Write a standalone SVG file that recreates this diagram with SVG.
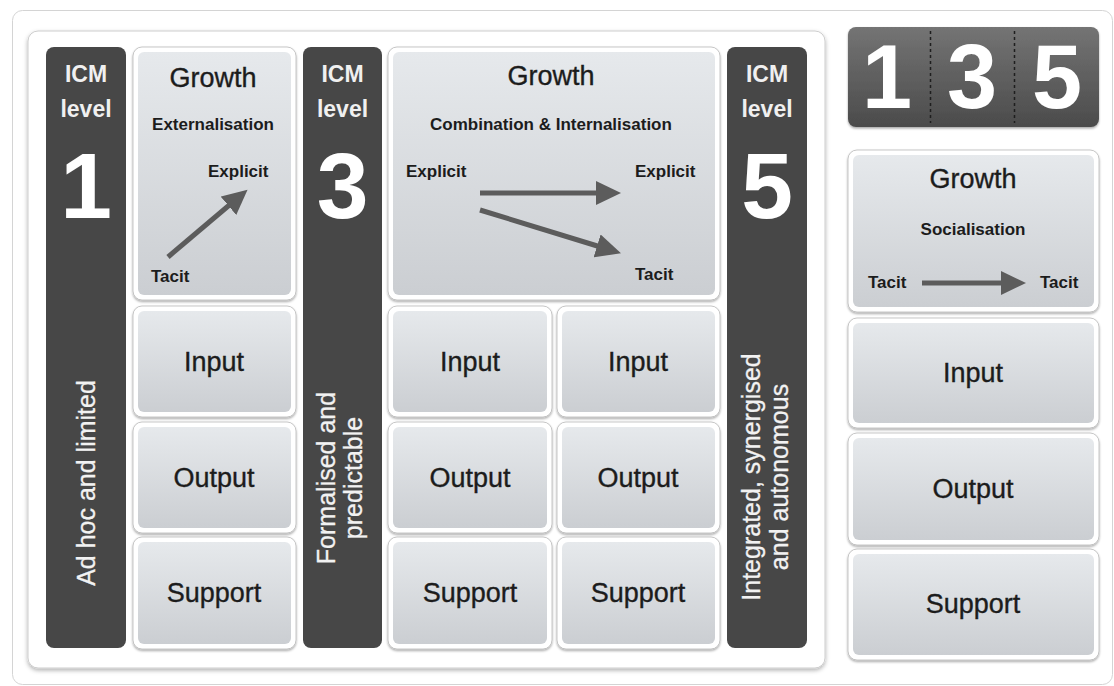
<svg xmlns="http://www.w3.org/2000/svg" width="1114" height="686" viewBox="0 0 1114 686">
<defs>
<linearGradient id="boxG" x1="0" y1="0" x2="0" y2="1"><stop offset="0" stop-color="#e6e9ec"/><stop offset="1" stop-color="#cbced2"/></linearGradient>
<linearGradient id="darkG" x1="0" y1="0" x2="0" y2="1"><stop offset="0" stop-color="#747474"/><stop offset="1" stop-color="#4b4b4b"/></linearGradient>
<filter id="sh" x="-10%" y="-10%" width="120%" height="125%"><feDropShadow dx="0" dy="1.5" stdDeviation="1.2" flood-color="#000" flood-opacity="0.35"/></filter>
<filter id="psh" x="-5%" y="-5%" width="110%" height="110%"><feDropShadow dx="0" dy="2" stdDeviation="2" flood-color="#000" flood-opacity="0.3"/></filter>
<marker id="ah" markerUnits="userSpaceOnUse" markerWidth="26" markerHeight="24" refX="2" refY="12" orient="auto"><path d="M0,0 L25,12 L0,24 z" fill="#5c5c5c"/></marker>
<style>
text{font-family:"Liberation Sans",Arial,Helvetica,sans-serif}
.card{fill:#fff;stroke:#b9b9b9;stroke-width:0.8;filter:url(#sh)}
.in{fill:url(#boxG)}
.col{fill:#474747}
.lbl{font-size:27px;fill:#1c1c1c;stroke:#1c1c1c;stroke-width:0.35;text-anchor:middle}
.gr{font-size:27px;fill:#1c1c1c;stroke:#1c1c1c;stroke-width:0.35;text-anchor:middle}
.sub{font-size:17px;font-weight:bold;fill:#1c1c1c;text-anchor:middle}
.kn{font-size:17px;font-weight:bold;fill:#1c1c1c}
.icm{font-size:23px;font-weight:bold;fill:#f0f0f0;text-anchor:middle}
.big{font-size:93px;font-weight:bold;fill:#fff;text-anchor:middle}
.vt{font-size:25px;fill:#f2f2f2;stroke:#f2f2f2;stroke-width:0.3;text-anchor:middle}
.arr{stroke:#5c5c5c;stroke-width:5;fill:none;marker-end:url(#ah)}
</style>
</defs>
<rect x="12.5" y="10.5" width="1100" height="674" rx="10" fill="#fff" stroke="#d4d4d4"/>
<rect x="28" y="31" width="797" height="637" rx="10" fill="#fff" stroke="#cdcdcd" filter="url(#psh)"/>

<g id="col1"><rect class="col" x="46" y="47" width="80" height="601" rx="8"/>
<text class="icm" x="86" y="82">ICM</text><text class="icm" x="86" y="117">level</text>
<text class="big" x="86" y="218">1</text>
<text class="vt" transform="translate(95,483) rotate(-90)">Ad hoc and limited</text></g>

<g id="col3"><rect class="col" x="303" y="47" width="79" height="601" rx="8"/>
<text class="icm" x="342.5" y="82">ICM</text><text class="icm" x="342.5" y="117">level</text>
<text class="big" x="342.5" y="218">3</text>
<text class="vt" transform="translate(335,478) rotate(-90)">Formalised and</text>
<text class="vt" transform="translate(362,478) rotate(-90)">predictable</text></g>

<g id="col5"><rect class="col" x="727" y="47" width="80" height="601" rx="8"/>
<text class="icm" x="767" y="82">ICM</text><text class="icm" x="767" y="117">level</text>
<text class="big" x="767" y="218">5</text>
<text class="vt" transform="translate(760,477) rotate(-90)">Integrated, synergised</text>
<text class="vt" transform="translate(788,477) rotate(-90)">and autonomous</text></g>

<g id="growth1"><rect class="card" x="133" y="47" width="163" height="253" rx="9"/><rect class="in" x="138" y="52" width="153" height="243" rx="6"/>
<text class="gr" x="213" y="87">Growth</text><text class="sub" x="213" y="130">Externalisation</text>
<text class="kn" x="208" y="177">Explicit</text><text class="kn" x="151" y="282">Tacit</text></g>

<g id="input1"><rect class="card" x="133" y="306" width="163" height="111" rx="9"/><rect class="in" x="138" y="311" width="153" height="101" rx="6"/><text class="lbl" x="214" y="371">Input</text></g>
<g id="output1"><rect class="card" x="133" y="422" width="163" height="111" rx="9"/><rect class="in" x="138" y="427" width="153" height="101" rx="6"/><text class="lbl" x="214" y="487">Output</text></g>
<g id="support1"><rect class="card" x="133" y="537" width="163" height="112" rx="9"/><rect class="in" x="138" y="542" width="153" height="102" rx="6"/><text class="lbl" x="214" y="602">Support</text></g>

<g id="growth3"><rect class="card" x="388" y="47" width="332" height="253" rx="9"/><rect class="in" x="393" y="52" width="322" height="243" rx="6"/>
<text class="gr" x="551" y="85">Growth</text><text class="sub" x="551" y="130">Combination &amp; Internalisation</text>
<text class="kn" x="406" y="177">Explicit</text><text class="kn" x="635" y="177">Explicit</text><text class="kn" x="635" y="280">Tacit</text></g>

<g id="input3a"><rect class="card" x="388" y="306" width="164" height="111" rx="9"/><rect class="in" x="393" y="311" width="154" height="101" rx="6"/><text class="lbl" x="470" y="371">Input</text></g>
<g id="input3b"><rect class="card" x="557" y="306" width="163" height="111" rx="9"/><rect class="in" x="562" y="311" width="153" height="101" rx="6"/><text class="lbl" x="638" y="371">Input</text></g>
<g id="output3a"><rect class="card" x="388" y="422" width="164" height="111" rx="9"/><rect class="in" x="393" y="427" width="154" height="101" rx="6"/><text class="lbl" x="470" y="487">Output</text></g>
<g id="output3b"><rect class="card" x="557" y="422" width="163" height="111" rx="9"/><rect class="in" x="562" y="427" width="153" height="101" rx="6"/><text class="lbl" x="638" y="487">Output</text></g>
<g id="support3a"><rect class="card" x="388" y="537" width="164" height="112" rx="9"/><rect class="in" x="393" y="542" width="154" height="102" rx="6"/><text class="lbl" x="470" y="602">Support</text></g>
<g id="support3b"><rect class="card" x="557" y="537" width="163" height="112" rx="9"/><rect class="in" x="562" y="542" width="153" height="102" rx="6"/><text class="lbl" x="638" y="602">Support</text></g>

<g id="levels135"><rect x="848" y="27" width="251" height="100" rx="8" fill="url(#darkG)" filter="url(#sh)"/>
<line x1="930.5" y1="31" x2="930.5" y2="123" stroke="#1e1e1e" stroke-width="1.5" stroke-dasharray="3,3"/>
<line x1="1014.5" y1="31" x2="1014.5" y2="123" stroke="#1e1e1e" stroke-width="1.5" stroke-dasharray="3,3"/>
<text class="big" style="font-size:90px" x="887" y="108">1</text><text class="big" style="font-size:90px" x="972" y="108">3</text><text class="big" style="font-size:90px" x="1057" y="108">5</text></g>

<g id="growth5"><rect class="card" x="848" y="150" width="251" height="162" rx="9"/><rect class="in" x="853" y="155" width="241" height="152" rx="6"/>
<text class="gr" x="973" y="188">Growth</text><text class="sub" x="973" y="235">Socialisation</text>
<text class="kn" x="868" y="288">Tacit</text><text class="kn" x="1040" y="288">Tacit</text></g>

<g id="input5"><rect class="card" x="848" y="318" width="251" height="110" rx="9"/><rect class="in" x="853" y="323" width="241" height="100" rx="6"/><text class="lbl" x="973" y="382">Input</text></g>
<g id="output5"><rect class="card" x="848" y="433" width="251" height="112" rx="9"/><rect class="in" x="853" y="438" width="241" height="102" rx="6"/><text class="lbl" x="973" y="498">Output</text></g>
<g id="support5"><rect class="card" x="848" y="549" width="251" height="111" rx="9"/><rect class="in" x="853" y="554" width="241" height="101" rx="6"/><text class="lbl" x="973" y="613">Support</text></g>

<g id="connectors">
<line class="arr" x1="168" y1="257" x2="230" y2="204.5"/>
<line class="arr" x1="480" y1="193" x2="598" y2="193"/>
<line class="arr" x1="480" y1="210" x2="599" y2="246.5"/>
<line class="arr" x1="922" y1="283" x2="1003" y2="283"/>
</g>
</svg>
